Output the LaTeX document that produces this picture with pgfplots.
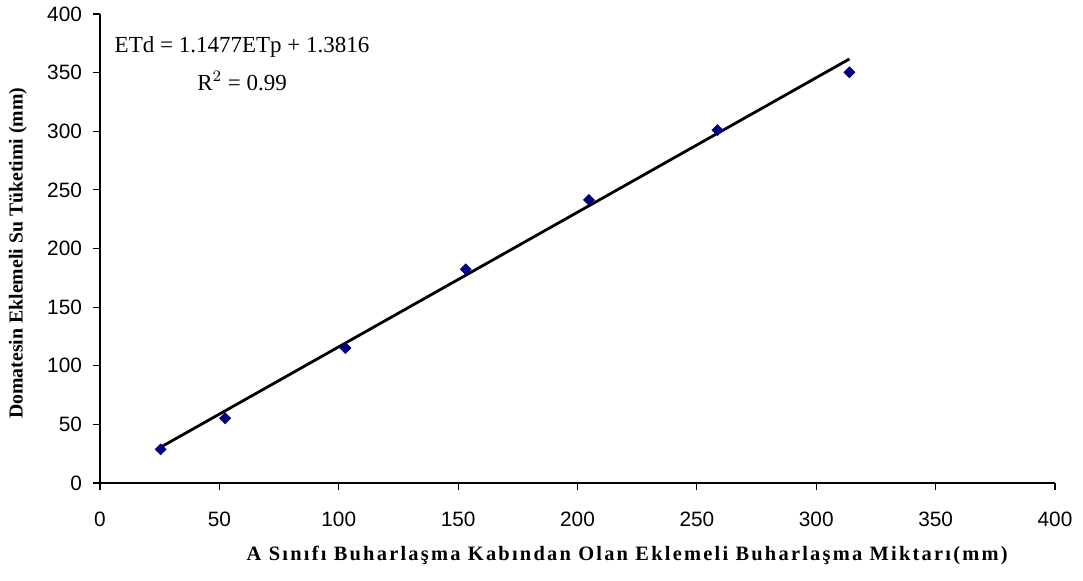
\documentclass[border=0pt]{standalone}
\usepackage{fontspec}
\setmainfont{Liberation Serif}
\newfontfamily\arial{Liberation Sans}
\usepackage{pgfplots}
\pgfplotsset{compat=1.18}
\definecolor{navy}{RGB}{0,0,128}
\begin{document}
\begin{tikzpicture}
\path[use as bounding box] (-50pt,-48.5pt) rectangle (491.5pt,241.5pt);
\begin{axis}[
  scale only axis,
  width=477.5pt, height=234.5pt,
  at={(0,0)}, anchor=origin,
  xmin=0, xmax=400, ymin=0, ymax=400,
  xtick={0,50,...,400}, ytick={0,50,...,400},
  axis x line*=bottom, axis y line*=left,
  axis line style={line width=0.6pt, black},
  tick align=outside, major tick length=3.5pt,
  tick style={line width=0.6pt, black},
  /pgf/number format/assume math mode=true,
  tick label style={font=\arial\fontsize{10.4}{12}\selectfont},
  xticklabel style={yshift=-7.5pt},
  yticklabel style={xshift=-2pt},
  xlabel={A Sınıfı Buharlaşma Kabından Olan Eklemeli Buharlaşma Miktarı(mm)},
  ylabel={Domatesin Eklemeli Su Tüketimi (mm)},
  xlabel style={font=\bfseries\fontsize{10.2}{12}\selectfont\addfontfeatures{LetterSpace=11}, at={(axis description cs:0.552,-0.1535)}, anchor=center},
  ylabel style={font=\bfseries\fontsize{9.9}{12}\selectfont, at={(axis description cs:-0.0859,0.49)}, anchor=center},
  clip=false,
]
\addplot[black, line width=1.4pt] coordinates {(25.4,30.53) (313.9,361.65)};
\addplot[only marks, mark=square*, mark size=1.9pt, mark options={rotate=45, fill=navy, draw=navy}] coordinates {
(25.4,28.7) (52.4,55.2) (102.8,115.1) (153.2,182.3) (204.8,241.4) (258.6,301.0) (313.9,350.3)};
\node[align=center, font=\fontsize{11.5}{14}\selectfont] at (axis cs:59.5,358) {ETd = 1.1477ETp + 1.3816\\[5pt]R$^{2}$ = 0.99};
\end{axis}
\end{tikzpicture}
\end{document}
